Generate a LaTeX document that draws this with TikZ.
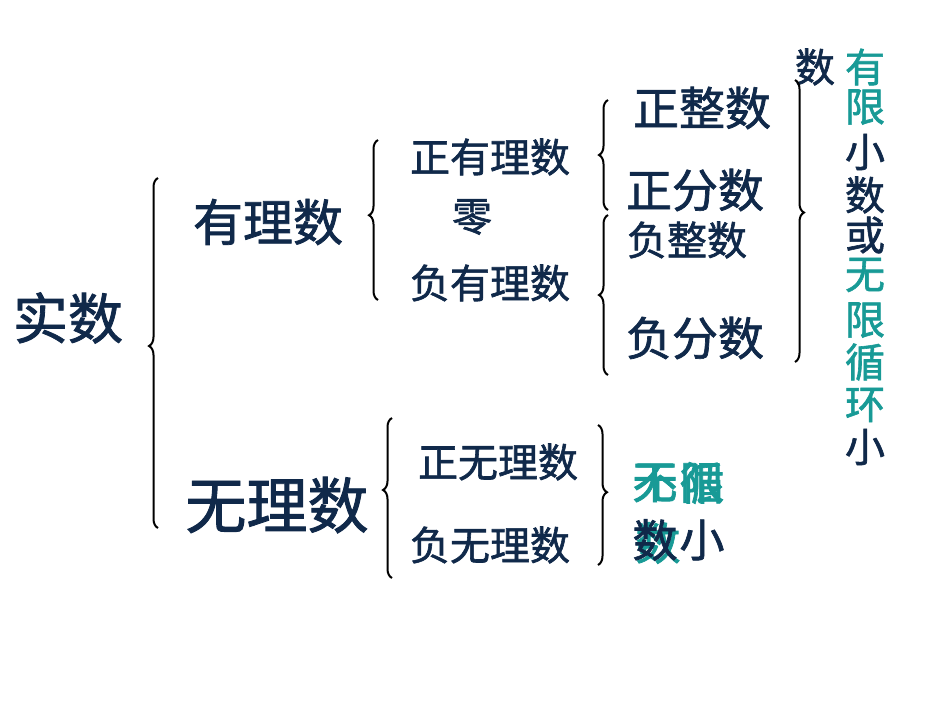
\documentclass[tikz,border=0pt]{standalone}
\usepackage{fontspec}
\newfontfamily\cjk{Noto Sans CJK SC}[FakeBold=1.5]
\usetikzlibrary{decorations.pathreplacing}
\definecolor{dk}{HTML}{10294A}
\definecolor{tl}{HTML}{189A96}
\tikzset{
 t/.style={font=\cjk\fontsize{#1}{#1}\selectfont, text=dk, inner sep=0pt},
 br/.style={draw=black, line width=2pt, decorate, decoration={brace, amplitude=9pt, aspect=#1}}
}
\begin{document}
\begin{tikzpicture}[x=1pt,y=-1pt]
\useasboundingbox (0,0) rectangle (950,713);
\node[t=55] (shishu) at (68,318) {实数};
\node[t=50] (youli) at (268,222) {有理数};
\node[t=61] (wuli) at (277,505) {无理数};
\node[t=40] (zyl) at (490,157) {正有理数};
\node[t=40] (ling) at (472,217) {零};
\node[t=40] (fyl) at (490,283) {负有理数};
\node[t=46] (zzs) at (702,108) {正整数};
\node[t=46] (zfs) at (695,190) {正分数};
\node[t=40] (fzs) at (687,240) {负整数};
\node[t=46] (ffs) at (695,338) {负分数};
\node[t=40] (zwl) at (498,462) {正无理数};
\node[t=40] (fwl) at (490,545) {负无理数};
% vertical text
\node[t=40] (v0) at (815,67) {数};
\foreach \c/\y/\col [count=\i] in {有/67/tl,限/107/tl,小/152/dk,数/195/dk,或/235/dk,无/275/tl,限/320/tl,循/362/tl,环/405/tl,小/447/dk}
  \node[t=40, text=\col] (v\i) at (865,\y) {\c};
% overlapping text
\node[t=45, text=tl] (o1) at (655,483) {无};
\node[t=45, text=tl] (o2) at (655,483) {不};
\node[t=45, text=tl] (o3) at (702,483) {限};
\node[t=45, text=tl] (o4) at (702,483) {循};
\node[t=45, text=tl] (o5) at (658,543) {数};
\node[t=45] (o6) at (655,540) {数};
\node[t=45] (o7) at (702,540) {小};
% braces
\coordinate (a1) at (158,528); \coordinate (a2) at (158,178);
\draw[br=0.52] (a1) -- (a2);
\coordinate (b1) at (378,300); \coordinate (b2) at (378,140);
\draw[br=0.53] (b1) -- (b2);
\coordinate (c1) at (608,210); \coordinate (c2) at (608,100);
\draw[br=0.5] (c1) -- (c2);
\coordinate (d1) at (608,375); \coordinate (d2) at (608,215);
\draw[br=0.5] (d1) -- (d2);
\coordinate (e1) at (392,578); \coordinate (e2) at (392,418);
\draw[br=0.55] (e1) -- (e2);
\coordinate (f1) at (598,425); \coordinate (f2) at (598,565);
\draw[br=0.48] (f1) -- (f2);
\coordinate (g1) at (795,80); \coordinate (g2) at (795,362);
\draw[br=0.47] (g1) -- (g2);
\end{tikzpicture}
\end{document}
